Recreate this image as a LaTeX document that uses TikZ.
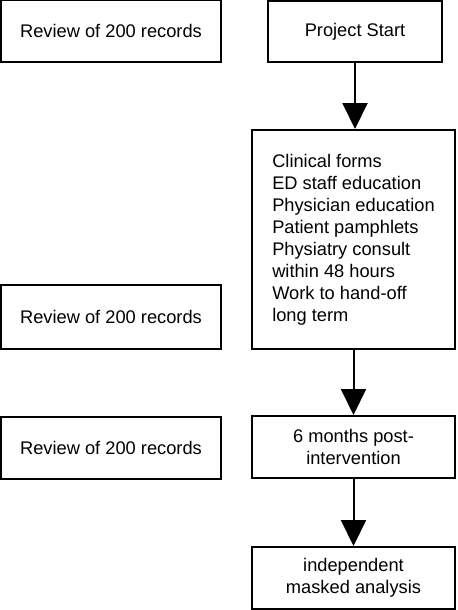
\documentclass[tikz,border=0pt]{standalone}
\usepackage{fontspec}
\setmainfont{Liberation Sans}
\usetikzlibrary{arrows.meta,positioning}

\begin{document}
\begin{tikzpicture}
[x=0.75pt,y=0.75pt]
\tikzset{
	box/.style = {rectangle, draw, line width=1.5pt, inner sep=0pt, font=\fontsize{13.7}{16.5}\selectfont},
	review/.style = {box, minimum width=165pt, minimum height=46.5pt},
	stage/.style = {box, minimum width=152.25pt, minimum height=46.5pt, align=center},
	flow/.style = {line width=1.5pt, -{Triangle[width=18.75pt,length=19.5pt]}}
}
\useasboundingbox (0,0) rectangle (457,-610);

\node(rev1) [review] at (111,-31) {Review of 200 records};
\node(rev2) [review, minimum height=48pt] at (111,-317) {Review of 200 records};
\node(rev3) [review] at (111,-448) {Review of 200 records};

\node(start) [box, minimum width=130.5pt, minimum height=45.75pt] at (355,-31.5) {Project Start};
\node(interv) [box, minimum width=152.25pt, minimum height=164.25pt, align=left] at (353.5,-239.5)
	{Clinical forms\\ED staff education\\Physician education\\Patient pamphlets\\Physiatry consult\\within 48 hours\\Work to hand-off\\long term};
\node(post) [stage] at (353.5,-447) {6 months post-\\intervention};
\node(analysis) [stage] at (353.5,-578) {independent\\masked analysis};

\draw [flow] (start.south) -- (start.south |- interv.north);
\draw [flow] (interv.south) -- (post.north);
\draw [flow] (post.south) -- (analysis.north);
\end{tikzpicture}
\end{document}
